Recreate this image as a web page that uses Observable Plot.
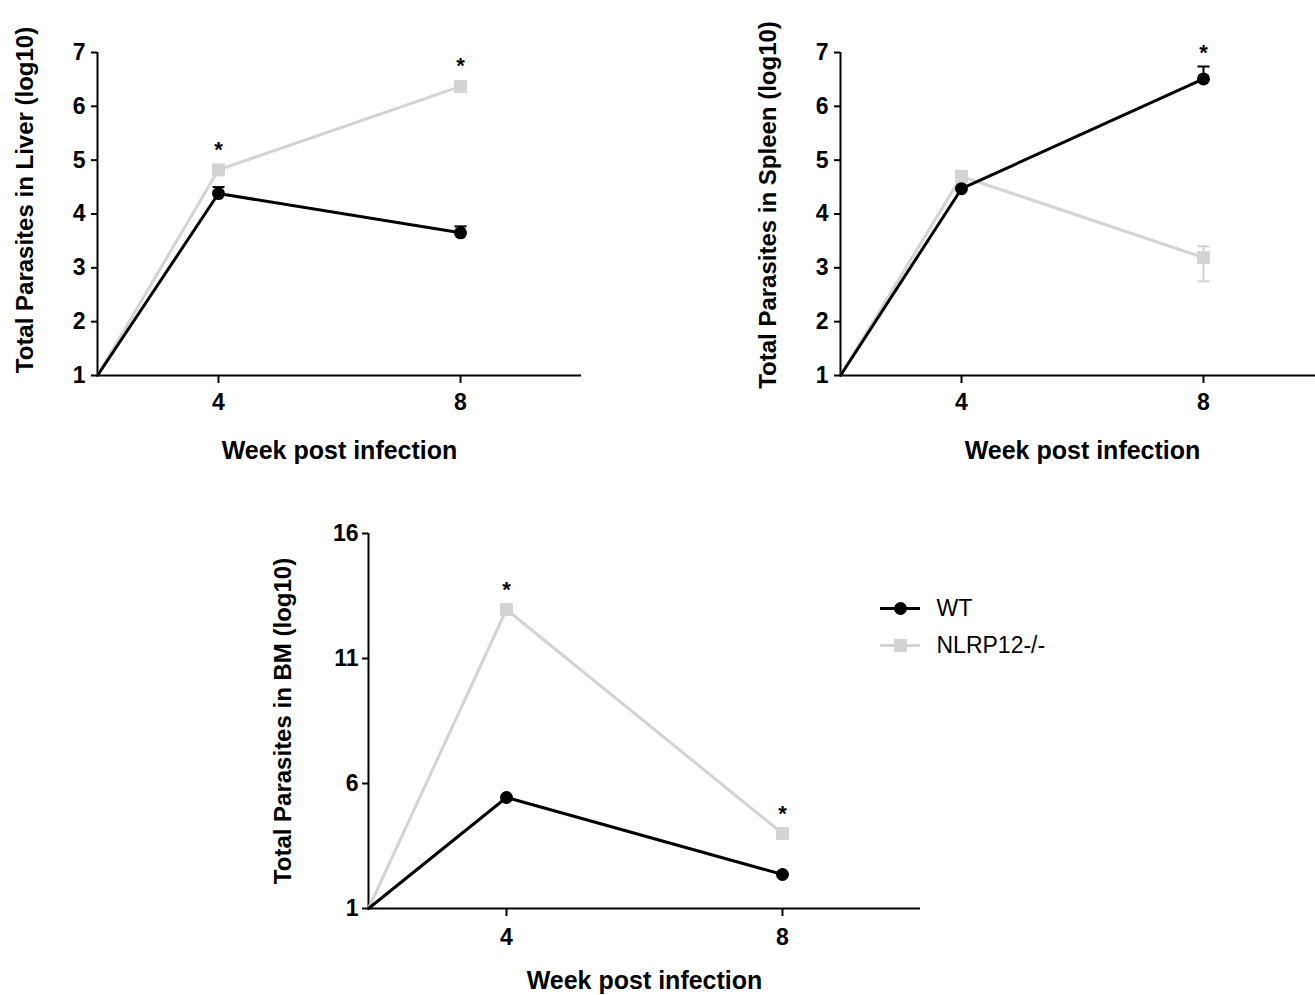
<!DOCTYPE html>
<html><head><meta charset="utf-8">
<script src="https://cdn.jsdelivr.net/npm/d3@7"></script>
<script src="https://cdn.jsdelivr.net/npm/@observablehq/plot@0.6"></script>
<style>
html,body{margin:0;padding:0;background:#fff;overflow:hidden;}
#root{position:relative;width:1315px;height:995px;overflow:hidden;font-family:"Liberation Sans",Arial,sans-serif;}
#root > div{position:absolute;}
#root svg{max-width:none !important;}
</style></head><body><div id="root"></div>
<script>
// ---- data ----
const weeks = [2, 4, 8];            // first point = baseline origin (no marker)
const xTicks = [4, 8];
const seriesNames = ["WT", "NLRP12-/-"];
const seriesColors = ["#000000", "#d3d3d3"];
const seriesSymbols = ["circle", "square"];
const xLabel = "Week post infection";

// Liver
const liverWT = [1, 4.38, 3.65];
const liverWTUp = [0, 0.12, 0.12];
const liverWTDown = [0, 0, 0];
const liverKO = [1, 4.82, 6.37];
const liverKOUp = [0, 0, 0];
const liverKODown = [0, 0, 0];
const liverStars = [4, 8];
const liverStarSeries = "NLRP12-/-";
const liverYTicks = [1, 2, 3, 4, 5, 6, 7];

// Spleen
const spleenWT = [1, 4.47, 6.51];
const spleenWTUp = [0, 0, 0.23];
const spleenWTDown = [0, 0, 0];
const spleenKO = [1, 4.70, 3.19];
const spleenKOUp = [0, 0, 0.21];
const spleenKODown = [0, 0, 0.44];
const spleenStars = [8];
const spleenStarSeries = "WT";
const spleenYTicks = [1, 2, 3, 4, 5, 6, 7];

// Bone marrow
const bmWT = [1, 5.44, 2.36];
const bmWTUp = [0, 0, 0];
const bmWTDown = [0, 0, 0];
const bmKO = [1, 12.96, 4.0];
const bmKOUp = [0, 0, 0];
const bmKODown = [0, 0, 0];
const bmStars = [4, 8];
const bmStarSeries = "NLRP12-/-";
const bmYTicks = [1, 6, 11, 16];

// ---- drawing ----
const FONT = '"Liberation Sans", Arial, sans-serif';
const capSymbol = {draw(ctx, size) { const r = Math.sqrt(size / Math.PI); ctx.moveTo(-r, 0); ctx.lineTo(r, 0); }};
const colorScale = {domain: seriesNames, range: seriesColors};
const symbolScale = {domain: seriesNames, range: seriesSymbols};
const markerR = {"WT": 6.5, "NLRP12-/-": 7.3};

function makePanel(p) {
  const rows = [];
  [[p.wt, p.wtUp, p.wtDown, seriesNames[0]], [p.ko, p.koUp, p.koDown, seriesNames[1]]].forEach(([v, up, dn, s]) =>
    weeks.forEach((w, i) => rows.push({week: w, value: v[i], hi: v[i] + up[i], lo: v[i] - dn[i], series: s, marker: i > 0})));
  const pts = rows.filter(d => d.marker);
  const starRows = p.stars.map(w => pts.find(d => d.week === w && d.series === p.starSeries));
  const layers = [];
  layers.push(Plot.ruleY([p.yTicks[0]], {stroke: "#000", strokeWidth: 2}));
  layers.push(Plot.ruleX([weeks[0]], {stroke: "#000", strokeWidth: 2}));
  layers.push(Plot.axisX({ticks: xTicks, tickSize: 8, tickPadding: p.xPad, strokeWidth: 2, fontSize: 23, fontWeight: "bold", label: null, tickFormat: d => String(d)}));
  layers.push(Plot.axisY({ticks: p.yTicks, tickSize: 6, tickPadding: p.yPad, strokeWidth: 2, fontSize: 23, fontWeight: "bold", label: null, tickFormat: d => String(d)}));
  [seriesNames[1], seriesNames[0]].forEach(s => {
    const sr = rows.filter(d => d.series === s);
    const sp = pts.filter(d => d.series === s);
    const eu = sp.filter(d => d.hi !== d.value);
    const ed = sp.filter(d => d.lo !== d.value);
    layers.push(Plot.ruleX(sp.filter(d => d.hi !== d.lo), {x: "week", y1: "lo", y2: "hi", stroke: "series", strokeWidth: 2}));
    layers.push(Plot.dot(eu, {x: "week", y: "hi", symbol: capSymbol, r: 6, stroke: "series", fill: "none", strokeWidth: 2}));
    layers.push(Plot.dot(ed, {x: "week", y: "lo", symbol: capSymbol, r: 6, stroke: "series", fill: "none", strokeWidth: 2}));
    layers.push(Plot.line(sr, {x: "week", y: "value", stroke: "series", strokeWidth: 3}));
    layers.push(Plot.dot(sp, {x: "week", y: "value", symbol: "series", fill: "series", r: markerR[s], stroke: "none"}));
  });
  // significance asterisks: above error cap if present, otherwise above marker
  layers.push(Plot.text(starRows.filter(d => d.hi === d.value), {x: "week", y: "hi", text: () => "*", dy: -20, fontSize: 22, fontWeight: "bold", fill: "#000"}));
  layers.push(Plot.text(starRows.filter(d => d.hi !== d.value), {x: "week", y: "hi", text: () => "*", dy: -14, fontSize: 22, fontWeight: "bold", fill: "#000"}));
  layers.push(Plot.text([xLabel], {frameAnchor: "bottom", lineAnchor: "middle", textAnchor: "middle", dy: p.xLabelDy, fontSize: 25, fontWeight: "bold", fill: "#000"}));
  layers.push(Plot.text([p.yLabel], {frameAnchor: "left", lineAnchor: "middle", textAnchor: "middle", rotate: -90, dx: p.yLabelDx, dy: p.yLabelDy, fontSize: 24, fontWeight: "bold", fill: "#000"}));
  return Plot.plot({
    width: p.width, height: p.height,
    marginLeft: p.ml, marginRight: p.mr, marginTop: p.mt, marginBottom: p.mb,
    style: {fontFamily: FONT, color: "#000", background: "transparent", overflow: "visible", maxWidth: "none"},
    x: {domain: [weeks[0], 10]},
    y: {domain: [p.yTicks[0], p.yTicks[p.yTicks.length - 1]]},
    color: colorScale,
    symbol: symbolScale,
    marks: layers
  });
}

function place(el, left, top, w, h) {
  const d = document.createElement("div");
  d.style.left = left + "px"; d.style.top = top + "px";
  d.style.width = w + "px"; d.style.height = h + "px";
  d.appendChild(el);
  document.getElementById("root").appendChild(d);
}

place(makePanel({wt: liverWT, wtUp: liverWTUp, wtDown: liverWTDown, ko: liverKO, koUp: liverKOUp, koDown: liverKODown,
  stars: liverStars, starSeries: liverStarSeries, yTicks: liverYTicks, yLabel: "Total Parasites in Liver (log10)",
  width: 600, height: 480, ml: 97, mr: 19, mt: 52, mb: 105, xPad: 10, yPad: 6, xLabelDy: 75, yLabelDx: -72, yLabelDy: -14}), 0, 0, 600, 480);

place(makePanel({wt: spleenWT, wtUp: spleenWTUp, wtDown: spleenWTDown, ko: spleenKO, koUp: spleenKOUp, koDown: spleenKODown,
  stars: spleenStars, starSeries: spleenStarSeries, yTicks: spleenYTicks, yLabel: "Total Parasites in Spleen (log10)",
  width: 600, height: 480, ml: 97, mr: 19, mt: 52, mb: 105, xPad: 10, yPad: 6, xLabelDy: 75, yLabelDx: -72, yLabelDy: -9}), 743, 0, 600, 480);

place(makePanel({wt: bmWT, wtUp: bmWTUp, wtDown: bmWTDown, ko: bmKO, koUp: bmKOUp, koDown: bmKODown,
  stars: bmStars, starSeries: bmStarSeries, yTicks: bmYTicks, yLabel: "Total Parasites in BM (log10)",
  width: 940, height: 515, ml: 368, mr: 20, mt: 53, mb: 87, xPad: 12, yPad: 4, xLabelDy: 72, yLabelDx: -85, yLabelDy: 0}), 0, 480, 940, 515);

// legend
const legend = Plot.plot({
  width: 200, height: 80, marginLeft: 12, marginRight: 148, marginTop: 0, marginBottom: 0,
  style: {fontFamily: FONT, color: "#000", background: "transparent", overflow: "visible", maxWidth: "none"},
  x: {domain: [0, 1], axis: null},
  y: {type: "point", domain: seriesNames, range: [28, 65], padding: 0, axis: null},
  color: colorScale, symbol: symbolScale,
  marks: [
    Plot.ruleY(seriesNames, {y: d => d, x1: 0, x2: 1, stroke: d => d, strokeWidth: 3}),
    ...seriesNames.map(s => Plot.dot([s], {x: 0.5, y: d => d, symbol: d => d, fill: d => d, r: markerR[s]})),
    Plot.text(seriesNames, {x: 1, y: d => d, dx: 16, textAnchor: "start", fontSize: 23, fill: "#000"})
  ]
});
place(legend, 868, 580, 200, 80);
</script></body></html>
